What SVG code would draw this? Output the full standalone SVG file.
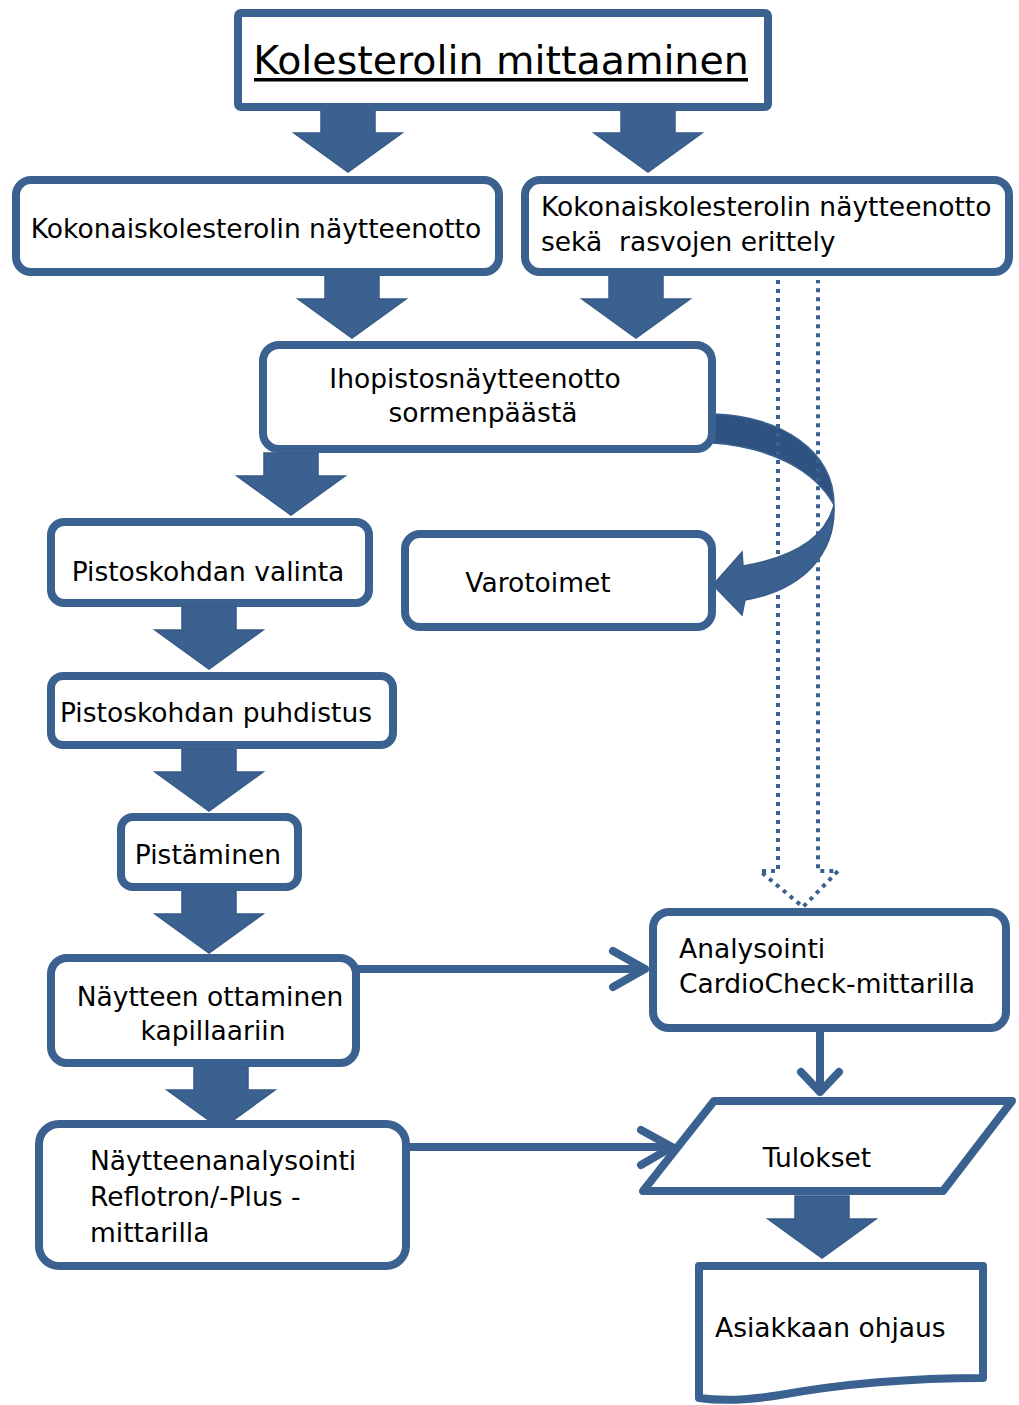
<svg xmlns="http://www.w3.org/2000/svg" width="1019" height="1405" viewBox="0 0 1019 1405">
<style>
.box{fill:#fff;stroke:#3a6190;stroke-width:8}
.t{font-family:"DejaVu Sans",Verdana,sans-serif;font-size:26.5px;fill:#000}
.blk{fill:#3a6190;stroke:#365a86;stroke-width:1.5}
.ln{fill:none;stroke:#3a6190;stroke-width:8;stroke-linecap:round;stroke-linejoin:round}
.dot{fill:none;stroke:#3a6190;stroke-width:4;stroke-dasharray:4 5}
</style>
<defs>
<path id="ba" d="M-27,0 H27 V23 H54 L0,62 L-54,23 H-27 Z"/>
</defs>
<rect width="1019" height="1405" fill="#fff"/>

<g id="connectors">
<use href="#ba" class="blk" x="348" y="110"/>
<use href="#ba" class="blk" x="648" y="110"/>
<use href="#ba" class="blk" x="352" y="276"/>
<use href="#ba" class="blk" x="636" y="276"/>
<use href="#ba" class="blk" x="291" y="453"/>
<use href="#ba" class="blk" x="209" y="607"/>
<use href="#ba" class="blk" x="209" y="749"/>
<use href="#ba" class="blk" x="209" y="891"/>
<use href="#ba" class="blk" x="221" y="1067"/>
<use href="#ba" class="blk" x="822" y="1196"/>
<path d="M713,414 C780,416 834,450 834,505 C815,470 770,447 713,443 Z" fill="#2f5380" stroke="#3a6190" stroke-width="1.5"/>
<path d="M834,505 C836,555 802,590 745,600 L742,615 L713,585 L742,552 L743,566 C790,558 825,540 834,505 Z" fill="#3a6190" stroke="#365a86" stroke-width="1.5"/>
<path class="dot" d="M778,280 V871 H760 L803,907 L838,871 H818 V280"/>
<path class="ln" d="M358,969 H645 M613,951 L645,969 L613,987"/>
<path class="ln" d="M820,1032 V1092 M801,1072 L820,1092 L839,1072"/>
<path class="ln" d="M408,1147 H672 M641,1130 L672,1147 L641,1165"/>
</g>

<g id="n-title">
<rect class="box" x="238" y="13" width="530" height="94" rx="3"/>
<text class="t" x="501" y="74" text-anchor="middle" style="font-size:39.5px">Kolesterolin mittaaminen</text>
<rect x="254" y="78" width="494" height="3.5" fill="#000"/>
</g>
<g id="n-koko">
<rect class="box" x="16" y="180" width="483" height="92" rx="15"/>
<text class="t" x="256" y="238" text-anchor="middle">Kokonaiskolesterolin näytteenotto</text>
</g>
<g id="n-koko2">
<rect class="box" x="525" y="180" width="484" height="92" rx="15"/>
<text class="t" x="541" y="216">Kokonaiskolesterolin näytteenotto</text>
<text class="t" x="541" y="251" xml:space="preserve">sekä  rasvojen erittely</text>
</g>
<g id="n-iho">
<rect class="box" x="263" y="345" width="449" height="104" rx="16"/>
<text class="t" x="475" y="388" text-anchor="middle">Ihopistosnäytteenotto</text>
<text class="t" x="483" y="422" text-anchor="middle">sormenpäästä</text>
</g>
<g id="n-valinta">
<rect class="box" x="51" y="522" width="318" height="81" rx="13"/>
<text class="t" x="208" y="581" text-anchor="middle">Pistoskohdan valinta</text>
</g>
<g id="n-varo">
<rect class="box" x="405" y="534" width="307" height="93" rx="15"/>
<text class="t" x="538" y="592" text-anchor="middle">Varotoimet</text>
</g>
<g id="n-puhd">
<rect class="box" x="51" y="676" width="342" height="69" rx="12"/>
<text class="t" x="216" y="722" text-anchor="middle">Pistoskohdan puhdistus</text>
</g>
<g id="n-pist">
<rect class="box" x="121" y="817" width="177" height="70" rx="12"/>
<text class="t" x="208" y="864" text-anchor="middle">Pistäminen</text>
</g>
<g id="n-nayt">
<rect class="box" x="51" y="958" width="305" height="105" rx="16"/>
<text class="t" x="210" y="1006" text-anchor="middle">Näytteen ottaminen</text>
<text class="t" x="213" y="1040" text-anchor="middle">kapillaariin</text>
</g>
<g id="n-refl">
<rect class="box" x="39" y="1124" width="367" height="142" rx="20"/>
<text class="t" x="90" y="1170">Näytteenanalysointi</text>
<text class="t" x="90" y="1206">Reflotron/-Plus -</text>
<text class="t" x="90" y="1242">mittarilla</text>
</g>
<g id="n-anal">
<rect class="box" x="653" y="912" width="353" height="116" rx="16"/>
<text class="t" x="679" y="958">Analysointi</text>
<text class="t" x="679" y="993">CardioCheck-mittarilla</text>
</g>
<g id="n-tulokset">
<path class="box" d="M714,1101 H1012 L943,1191 H643 Z" stroke-linejoin="round"/>
<text class="t" x="817" y="1167" text-anchor="middle">Tulokset</text>
</g>
<g id="n-ohjaus">
<path class="box" d="M699,1266 H983 V1378 C900,1378 830,1386 780,1395 C750,1400 720,1401 699,1398 Z" stroke-linejoin="round"/>
<text class="t" x="715" y="1337">Asiakkaan ohjaus</text>
</g>
</svg>
